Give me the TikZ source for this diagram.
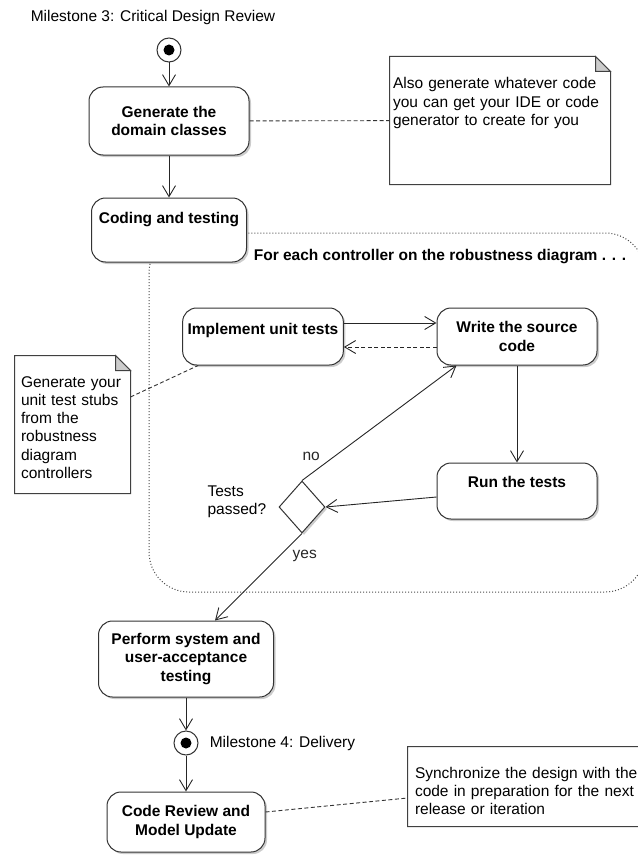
\documentclass[tikz,border=0pt]{standalone}
\usepackage{fontspec}
\setmainfont{Liberation Sans}
\usepackage{tikz}
\usetikzlibrary{arrows.meta,shapes.geometric,shadows,positioning}
\newcommand{\diagfont}{\fontsize{15.5}{18.3}\selectfont}

\begin{document}
\begin{tikzpicture}[x=1pt, y=-1pt, line width=1pt, font=\diagfont,
  >={Straight Barb[length=11pt,width=13pt]},
  act/.style={draw=black!80, fill=white, rounded corners=14pt, align=center, font=\diagfont\bfseries, inner sep=5pt,
    drop shadow={shadow xshift=2pt,shadow yshift=-2pt,opacity=.4}},
  note/.style={align=left, inner ysep=5pt},
  milestone/.style={circle, draw=black!80, fill=white, minimum size=24, inner sep=0pt,
    path picture={\fill[black] (path picture bounding box.center) circle (5.5pt);}},
  decision/.style={diamond, draw=black!80, fill=white, minimum width=46, minimum height=52, inner sep=0pt,
    drop shadow={shadow xshift=2pt,shadow yshift=-2pt,opacity=.4}},
  flow/.style={->, line width=0.9pt, black!85},
  link/.style={dash pattern=on 4pt off 2.5pt, line width=0.9pt, black!80}]
\useasboundingbox (0,0) rectangle (637,856);

\draw[dotted, black!70, rounded corners=40pt] (149,233) rectangle (645,592);

\node (ms3) at (27,17) [anchor=west] {Milestone 3: Critical Design Review};
\node (start) at (169,50) [milestone] {};
\node (gen) at (169,121) [act, minimum width=160, minimum height=68] {Generate the\\domain classes};
\node (code) at (169,230) [act, minimum width=155, text height=20pt, text depth=34pt] {Coding and testing};
\node (loop) at (250,257) [anchor=west, font=\diagfont\bfseries] {For each controller on the robustness diagram . . .};

\node (impl) at (263,336.5) [act, minimum width=160, text height=21pt, text depth=26pt] {Implement unit tests};
\node (write) at (517,336.5) [act, minimum width=160, minimum height=57] {Write the source\\code};
\node (run) at (517,491) [act, minimum width=160, text height=19pt, text depth=27pt] {Run the tests};
\node (dec) at (302,507) [decision] {};
\node (decq) [left=8.5pt of dec.west, yshift=5pt, align=left] {Tests\\passed?};

\node (perf) at (186,659) [act, minimum width=175, minimum height=76] {Perform system and\\user-acceptance\\testing};
\node (ms4) at (186,743) [milestone] {};
\node (ms4txt) [right=7.5pt of ms4] {Milestone 4: Delivery};
\node (crm) at (186,822) [act, minimum width=158, minimum height=60] {Code Review and\\Model Update};

\node (ide) at (500,120.5) [note, inner xsep=3pt, text width=214pt, text height=27pt, text depth=90pt] {Also generate whatever code\\you can get your IDE or code\\generator to create for you};
\node (stubs) at (72.5,424.5) [note, inner xsep=6pt, text width=103pt, text height=26pt, text depth=101pt] {Generate your\\unit test stubs\\from the\\robustness\\diagram\\controllers};
\node (sync) at (531.5,786.5) [note, inner xsep=7pt, text width=233pt, text height=26pt, text depth=43pt] {Synchronize the design with the\\code in preparation for the next\\release or iteration};

\foreach \n in {ide,stubs,sync} {
  \draw[black!75] (\n.north west) -- ([xshift=-15pt]\n.north east) -- ([yshift=-15pt]\n.north east) -- (\n.south east) -- (\n.south west) -- cycle;
  \draw[black!75, fill=black!20] ([xshift=-15pt]\n.north east) -- ([xshift=-15pt,yshift=-15pt]\n.north east) -- ([yshift=-15pt]\n.north east) -- cycle;
}

\draw[flow] (start) -- (gen);
\draw[flow] (gen) -- (code);
\draw[link] (gen) -- (ide);
\draw[flow] ([yshift=13.5pt]impl.east) -- ([yshift=13.5pt]write.west);
\draw[flow, dash pattern=on 4pt off 2.5pt] ([yshift=-10.5pt]write.west) -- ([yshift=-10.5pt]impl.east);
\draw[flow] (write) -- (run);
\draw[flow] ([yshift=-6pt]run.west) -- (dec.east);
\draw[flow] (dec.north) -- ([xshift=20pt]write.south west) node[pos=0.14, above left] (no) {no};
\draw[flow] (dec.south) -- ([xshift=29pt]perf.north) node[pos=0.15, below right] (yes) {yes};
\draw[flow] (perf) -- (ms4);
\draw[flow] (ms4) -- (crm);
\draw[link] ([yshift=27.5pt]stubs.east) -- ([xshift=16pt]impl.south west);
\draw[link] ([yshift=10pt]crm.east) -- ([yshift=-11.5pt]sync.west);
\end{tikzpicture}
\end{document}
